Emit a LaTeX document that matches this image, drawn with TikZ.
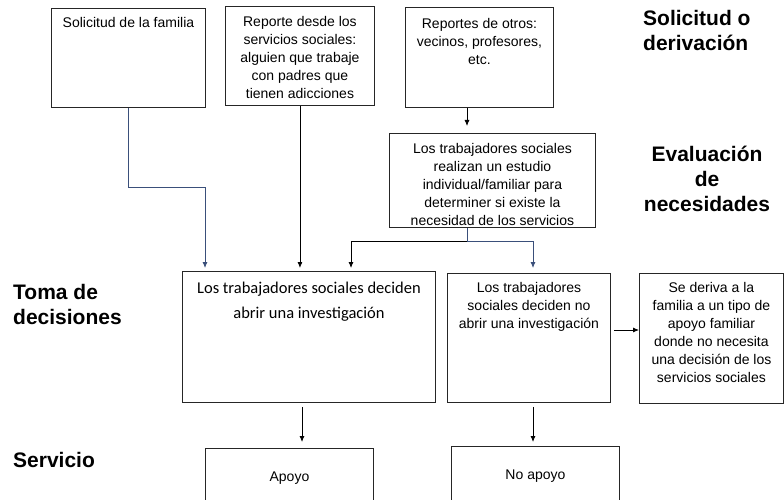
\documentclass[tikz,border=0pt]{standalone}
\usepackage{fontspec}
\setmainfont{Liberation Sans}
\newfontfamily\calibri{Carlito}
\usetikzlibrary{arrows.meta,positioning}
\definecolor{azul}{HTML}{3A4F7A}
\newcommand{\textocaja}[4]{\parbox[c][#2][t]{#1}{\centering\rule{0pt}{#3}#4}}
\tikzset{
    caja/.style={draw=black!85,line width=0.9pt,inner sep=0pt,anchor=north west,font=\fontsize{14}{18}\selectfont},
    etiqueta/.style={inner sep=0pt,font=\bfseries\fontsize{21}{25}\selectfont},
    flecha/.style={line width=0.8pt,-{Latex[length=6pt,width=5pt]}},
    linea/.style={line width=0.8pt}
}
\begin{document}
\begin{tikzpicture}[x=1pt,y=-1pt]
    \useasboundingbox (0,0) rectangle (784,500);
    \node[caja] (fam) at (51,8) {\textocaja{154pt}{99pt}{19pt}{Solicitud de la familia}};
    \node[caja] (rep) at (225,6) {\textocaja{149pt}{99pt}{20pt}{Reporte desde los\\servicios sociales:\\alguien que trabaje\\con padres que\\tienen adicciones}};
    \node[caja] (otros) at (405,7) {\textocaja{148pt}{100pt}{21pt}{Reportes de otros:\\vecinos, profesores,\\etc.}};
    \node[caja] (eval) at (389,133) {\textocaja{206pt}{94pt}{20pt}{Los trabajadores sociales\\realizan un estudio\\individual/familiar para\\determiner si existe la\\necesidad de los servicios}};
    \node[caja,font=\calibri\fontsize{16.5}{25}\selectfont] (abrir) at (182,271) {\textocaja{253pt}{131pt}{22pt}{Los trabajadores sociales deciden\\abrir una investigación}};
    \node[caja] (noabrir) at (447,273) {\textocaja{163pt}{129pt}{19pt}{Los trabajadores\\sociales deciden no\\abrir una investigación}};
    \node[caja] (deriva) at (639,273) {\textocaja{144pt}{130pt}{19pt}{Se deriva a la\\familia a un tipo de\\apoyo familiar\\donde no necesita\\una decisión de los\\servicios sociales}};
    \node[caja] (apoyo) at (205,448) {\textocaja{168pt}{70pt}{33pt}{Apoyo}};
    \node[caja] (noapoyo) at (451,446) {\textocaja{168pt}{70pt}{33pt}{No apoyo}};
    \node[etiqueta,anchor=north west,align=left] (solic) at (643,10) {Solicitud o\\derivación};
    \node[etiqueta,anchor=north,align=center] (evalu) at (707,146) {Evaluación\\de\\necesidades};
    \node[etiqueta,anchor=north west,align=left] (toma) at (13,284) {Toma de\\decisiones};
    \node[etiqueta,anchor=north west] (serv) at (13,452) {Servicio};
    \coordinate (codo) at (205,187);
    \coordinate (eje) at (467,241);
    \coordinate (ramaL) at (351,241);
    \coordinate (ramaR) at (533,241);
    \coordinate (bajaA) at (302,0);
    \coordinate (lado) at (0,330);
    \draw[flecha,azul,shorten >=3pt] (fam.south) |- (codo) -- (codo |- abrir.north);
    \draw[flecha,shorten >=3pt] (rep.south) -- (rep.south |- abrir.north);
    \draw[flecha,shorten >=7pt] (otros.south -| eje) -- (eval.north -| eje);
    \draw[linea,azul] (eval.south -| eje) -- (eje);
    \draw[flecha,shorten >=3pt] (eje) -- (ramaL) -- (ramaL |- abrir.north);
    \draw[flecha,azul,shorten >=5pt] (eje) -- (ramaR) -- (ramaR |- noabrir.north);
    \draw[flecha,shorten <=4pt,shorten >=6pt] (abrir.south -| bajaA) -- (apoyo.north -| bajaA);
    \draw[flecha,shorten <=4pt,shorten >=4pt] (noabrir.south -| ramaR) -- (noapoyo.north -| ramaR);
    \draw[flecha,shorten <=3pt] (noabrir.east |- lado) -- (deriva.west |- lado);
\end{tikzpicture}
\end{document}
